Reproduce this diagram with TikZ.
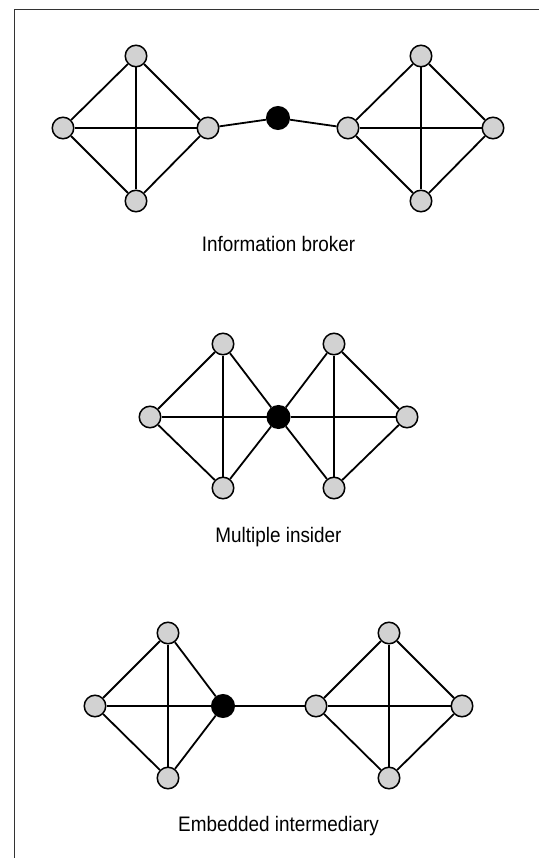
\documentclass[tikz,border=0pt]{standalone}
\usepackage{fontspec}
\setmainfont{Liberation Sans}[FakeStretch=0.9]
\usetikzlibrary{backgrounds}
\begin{document}
\begin{tikzpicture}[x=1pt,y=-1pt,
  gnode/.style={circle,draw=black,line width=1.5pt,fill=gray!35,minimum size=21.5pt,inner sep=0pt},
  bnode/.style={circle,draw=black,line width=1.5pt,fill=black,minimum size=22.5pt,inner sep=0pt},
  edge/.style={draw=black,line width=1.8pt},
  frameline/.style={draw=black!80,line width=1.6pt},
  lbl/.style={anchor=base,inner sep=0pt,font=\fontsize{21}{24}\selectfont}]
\useasboundingbox (0,0) rectangle (539,858);
\coordinate (fl) at (14.5,858);
\coordinate (fc) at (14.5,9.5);
\coordinate (fr) at (539,9.5);
\draw[frameline] (fl) -- (fc) -- (fr);

% ---- Information broker ----
\node[gnode] (a1) at (63,128) {};
\node[gnode] (a2) at (136,56) {};
\node[gnode] (a3) at (208,128) {};
\node[gnode] (a4) at (136,201) {};
\node[bnode] (ab) at (278,118) {};
\node[gnode] (a5) at (348,128) {};
\node[gnode] (a6) at (421,56) {};
\node[gnode] (a7) at (493,128) {};
\node[gnode] (a8) at (421,201) {};
\node[lbl] (la) at (278.5,252) {Information broker};

% ---- Multiple insider ----
\node[gnode] (b1) at (150,417) {};
\node[gnode] (b2) at (223,344) {};
\node[gnode] (b3) at (223,488) {};
\node[bnode] (bb) at (278.5,417) {};
\node[gnode] (b4) at (334,344) {};
\node[gnode] (b5) at (334,488) {};
\node[gnode] (b6) at (407,417) {};
\node[lbl] (lb) at (278.5,542) {Multiple insider};

% ---- Embedded intermediary ----
\node[gnode] (c1) at (95,706) {};
\node[gnode] (c2) at (168,633) {};
\node[gnode] (c3) at (168,778) {};
\node[bnode] (cb) at (223,706) {};
\node[gnode] (c4) at (316,706) {};
\node[gnode] (c5) at (389,633) {};
\node[gnode] (c6) at (462,706) {};
\node[gnode] (c7) at (389,778) {};
\node[lbl] (lc) at (278.5,831) {Embedded intermediary};

\begin{scope}[on background layer]
% top
\draw[edge] (a1) -- (a2) -- (a3) -- (a4) -- (a1);
\draw[edge] (a1) -- (a3);
\draw[edge] (a2) -- (a4);
\draw[edge] (a3) -- (ab) -- (a5);
\draw[edge] (a5) -- (a6) -- (a7) -- (a8) -- (a5);
\draw[edge] (a5) -- (a7);
\draw[edge] (a6) -- (a8);
% middle
\draw[edge] (b1) -- (b2);
\draw[edge] (b1) -- (b3);
\draw[edge] (b2) -- (b3);
\draw[edge] (b2) -- (bb) -- (b5);
\draw[edge] (b3) -- (bb) -- (b4);
\draw[edge] (b4) -- (b5);
\draw[edge] (b4) -- (b6);
\draw[edge] (b5) -- (b6);
\draw[edge] (b1) -- (bb) -- (b6);
% bottom
\draw[edge] (c1) -- (c2) -- (cb) -- (c3) -- (c1);
\draw[edge] (c1) -- (cb);
\draw[edge] (c2) -- (c3);
\draw[edge] (cb) -- (c4);
\draw[edge] (c4) -- (c5) -- (c6) -- (c7) -- (c4);
\draw[edge] (c4) -- (c6);
\draw[edge] (c5) -- (c7);
\end{scope}
\end{tikzpicture}
\end{document}
